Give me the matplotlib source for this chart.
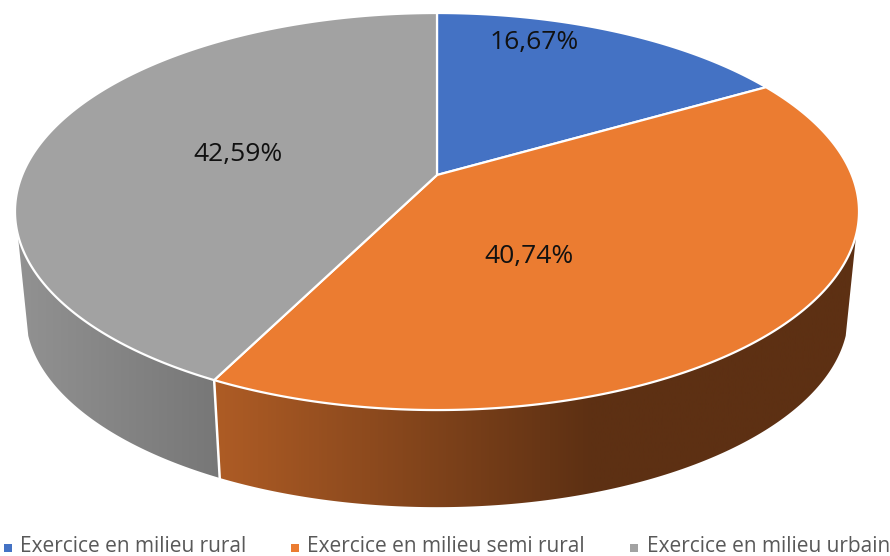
import matplotlib
matplotlib.use("Agg")
import matplotlib.pyplot as plt
from matplotlib.colors import LinearSegmentedColormap
from matplotlib.patches import Polygon
import numpy as np

categories = ["Exercice en milieu rural", "Exercice en milieu semi rural", "Exercice en milieu urbain"]
values = [16.67, 40.74, 42.59]
labels = ["16,67%", "40,74%", "42,59%"]
colors = ["#4472C4", "#EB7C31", "#A2A2A2"]

# pixel layout of the perspective disc
CX = 437
K = 0.184
TOP = dict(a=414.8, b=191.8, cy=175)
BOTTOM = dict(a=404.4, b=187.0, cy=278)


def project(theta, d):
    # theta is clockwise from 12 o'clock, degrees
    t = np.radians(theta)
    x, y = np.sin(t), np.cos(t)
    w = 1 + K * y
    return np.column_stack([CX + d["a"] * x / w, d["cy"] - d["b"] * y / w])


def arc(t0, t1, d):
    return project(np.linspace(t0, t1, 300), d)


def side(ax, t0, t1, x0, x1, stops):
    poly = np.vstack([arc(t0, t1, TOP), arc(t1, t0, BOTTOM)])
    patch = Polygon(poly, closed=True, fc="none", ec="none")
    ax.add_patch(patch)
    cmap = LinearSegmentedColormap.from_list("s", stops)
    grad = np.linspace(0, 1, 512).reshape(1, -1)
    im = ax.imshow(grad, extent=[x0, x1, 556, 0], cmap=cmap, aspect="auto", zorder=1)
    im.set_clip_path(patch)


fig = plt.figure(figsize=(8.9, 5.56), dpi=100)
ax = fig.add_axes([0, 0, 1, 1])

edges = np.concatenate([[0], np.cumsum(values)]) * 3.6
edges[-1] = 360

# sides, only the front part of the disc is visible
side(ax, edges[2], 253, 15, 220, [(0, "#929292"), (1, "#777777")])
side(ax, 107, edges[2], 215, 865, [(0, "#AE5C25"), (0.58, "#5D3013"), (1, "#5D3013")])
ax.plot(*np.vstack([project(edges[2], TOP), project(edges[2], BOTTOM)]).T, color="white", lw=1.8, zorder=2)

apex = np.array([[CX, TOP["cy"]]])
for i in range(3):
    pts = np.vstack([apex, arc(edges[i], edges[i + 1], TOP)])
    ax.add_patch(Polygon(pts, closed=True, fc=colors[i], ec="white", lw=1.6, joinstyle="round", zorder=3))

label_pos = [(534, 43), (529, 256), (238, 154)]
for txt, (x, y) in zip(labels, label_pos):
    ax.text(x, y, txt, ha="center", va="center", fontsize=19, family="Open Sans", color="#111111", zorder=4)

legend_marker_x = [8, 295, 634]
legend_text_x = [20, 307, 647]
for i, cat in enumerate(categories):
    ax.scatter(legend_marker_x[i], 548, marker="s", s=33, color=colors[i], linewidths=0, zorder=4)
    ax.text(legend_text_x[i], 546.5, cat, ha="left", va="center", fontsize=15, family="Open Sans", color="#595959", zorder=4)

ax.set_xlim(0, 890)
ax.set_ylim(556, 0)
ax.axis("off")
fig.savefig("out.png", dpi=100)
